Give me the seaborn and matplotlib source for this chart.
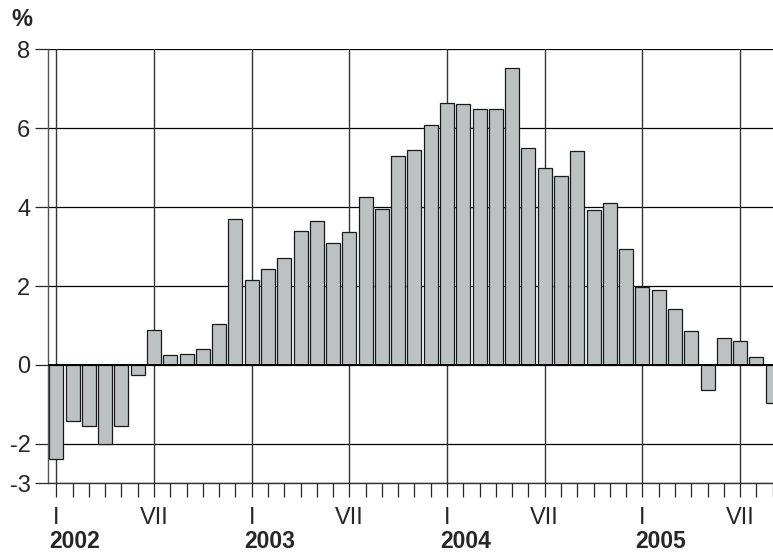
import numpy as np
import pandas as pd
import matplotlib
matplotlib.use("Agg")
import matplotlib.pyplot as plt
from matplotlib.ticker import FixedLocator
import seaborn as sns

# monthly values, Jan 2002 .. Sep 2005
values_2002 = [-2.38, -1.42, -1.54, -2.00, -1.54, -0.26, 0.89, 0.25, 0.28, 0.40, 1.05, 3.71]
values_2003 = [2.15, 2.42, 2.70, 3.40, 3.64, 3.10, 3.38, 4.25, 3.95, 5.29, 5.44, 6.08]
values_2004 = [6.63, 6.61, 6.48, 6.48, 7.52, 5.50, 4.99, 4.78, 5.42, 3.92, 4.11, 2.94]
values_2005 = [1.97, 1.90, 1.42, 0.86, -0.63, 0.69, 0.62, 0.20, -0.96]
years = ["2002", "2003", "2004", "2005"]
month_labels = {0: "I", 6: "VII"}
y_ticks = [8, 6, 4, 2, 0, -2, -3]

values = values_2002 + values_2003 + values_2004 + values_2005
months = [f"{y}-{m:02d}" for y in years for m in range(1, 13)][:len(values)]
df = pd.DataFrame({"month": months, "value": values})

sns.set_style("white")
plt.rcParams["font.family"] = ["Liberation Sans", "DejaVu Sans"]

fig = plt.figure(figsize=(7.73, 5.54), dpi=100)
ax = fig.add_axes([0.0617, 0.1275, 0.9383, 0.7835])

# gridlines first so bars sit on top
for y in y_ticks:
    if y != 0:
        ax.axhline(y, color="black", lw=0.9, zorder=0)
for i in range(len(values)):
    if i % 6 == 0:
        ax.axvline(i, color="#333333", lw=1.0, zorder=0)

sns.barplot(data=df, x="month", y="value", color="#bcc1c3", saturation=1,
            edgecolor="#1a1a1a", linewidth=0.9, width=0.86, ax=ax, zorder=2)

ax.axhline(0, color="black", lw=1.4, zorder=3)

ax.set_xlim(-0.53, 44.02)
ax.set_ylim(-3, 8)
ax.set_xlabel("")
ax.set_ylabel("")

for s in ["top", "right"]:
    ax.spines[s].set_visible(False)
ax.spines["left"].set_color("#555555")
ax.spines["left"].set_linewidth(1.0)
ax.spines["bottom"].set_color("#333333")
ax.spines["bottom"].set_linewidth(1.0)

ax.set_yticks(y_ticks)
ax.set_yticklabels([str(t) for t in y_ticks], fontsize=17)
ax.tick_params(axis="y", direction="out", length=9.4, width=0.9, pad=3, left=True)

ax.xaxis.set_major_locator(FixedLocator(list(range(len(values)))))
ax.set_xticklabels([month_labels.get(i % 12, "") for i in range(len(values))], fontsize=17)
ax.tick_params(axis="x", direction="out", length=10, width=0.9, pad=7, bottom=True)

for k, yr in enumerate(years):
    ax.text(k * 12 - 0.43, -4.47, yr, fontsize=16.5, fontweight="bold", ha="left", va="center")

fig.text(0.015, 0.965, "%", fontsize=17, fontweight="bold", ha="left", va="center")

fig.savefig("out.png", dpi=100)
